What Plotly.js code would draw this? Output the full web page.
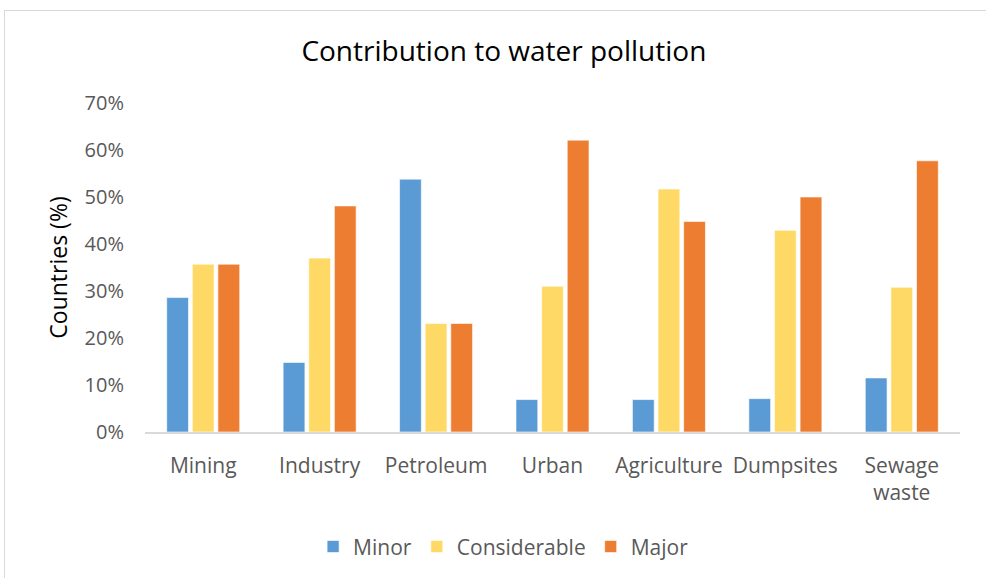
<!DOCTYPE html>
<html>
<head>
<meta charset="utf-8">
<script src="https://cdn.plot.ly/plotly-3.0.1.min.js"></script>
<style>
html,body{margin:0;padding:0;background:#fff;overflow:hidden;}
#chart{width:986px;height:578px;position:relative;}
#frame{position:absolute;left:4px;top:10px;width:1100px;height:700px;border:1px solid #D9D9D9;pointer-events:none;}
</style>
</head>
<body>
<div id="chart"></div>
<div id="frame"></div>
<script>
const categories = ["Mining","Industry","Petroleum","Urban","Agriculture","Dumpsites","Sewage<br>waste"];
const minor = [28.6, 14.8, 53.8, 6.9, 6.9, 7.1, 11.5];
const considerable = [35.7, 37.0, 23.1, 31.0, 51.7, 42.9, 30.8];
const major = [35.7, 48.1, 23.1, 62.1, 44.8, 50.0, 57.7];
const yTicks = [0,10,20,30,40,50,60,70];
const yTickText = yTicks.map(v => v + '%');

const FONT = "'Open Sans', sans-serif";
const mk = (name, y, color) => ({
  type: 'bar', name: name, x: categories, y: y,
  marker: {color: color, line: {color: '#ffffff', width: 0.6}},
  hoverinfo: 'x+y'
});

const data = [
  mk('Minor', minor, '#5B9BD5'),
  mk('Considerable', considerable, '#FFD966'),
  mk('Major', major, '#ED7D31')
];

const layout = {
  width: 986, height: 578,
  margin: {l: 145, r: 26, t: 103, b: 145},
  paper_bgcolor: '#ffffff', plot_bgcolor: '#ffffff',
  barmode: 'group', bargap: 0.34, bargroupgap: 0.15,
  title: {text: 'Contribution to water pollution', font: {family: FONT, size: 28, color: '#000000'},
          x: 0.511, xanchor: 'center', y: 0.912, yanchor: 'middle'},
  xaxis: {
    showgrid: false, zeroline: false, showline: true, linecolor: '#D9D9D9', linewidth: 1.5,
    ticks: '', tickfont: {family: FONT, size: 21, color: '#595959'}, ticklabelstandoff: 14
  },
  yaxis: {
    range: [0, 70], tickvals: yTicks, ticktext: yTickText, showgrid: false, zeroline: false,
    showline: false, ticks: '', tickfont: {family: FONT, size: 20, color: '#595959'},
    ticklabelstandoff: 20,
    title: {text: 'Countries (%)', font: {family: FONT, size: 23, color: '#000000'}, standoff: 10}
  },
  legend: {
    orientation: 'h', x: 0.44, xanchor: 'center', y: -0.345, yanchor: 'middle',
    font: {family: FONT, size: 21, color: '#595959'}, itemwidth: 30, traceorder: 'normal'
  },
  showlegend: true
};

Plotly.newPlot('chart', data, layout, {displayModeBar: false, staticPlot: true});
</script>
</body>
</html>
